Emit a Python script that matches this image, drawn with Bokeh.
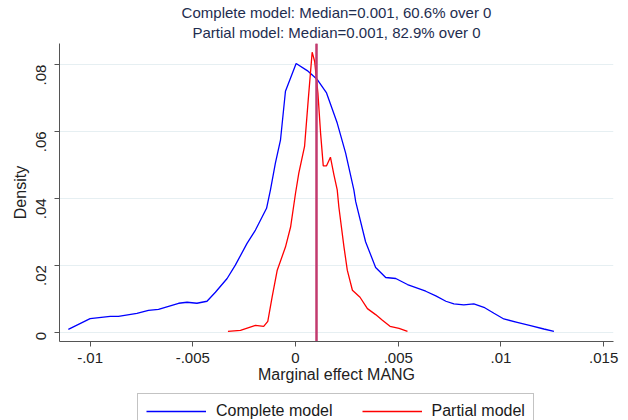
import math
from bokeh.plotting import figure
from bokeh.layouts import column
from bokeh.models import Range1d, FixedTicker, Title, Legend, LegendItem
from bokeh.embed import file_html
from bokeh.resources import INLINE

complete_x = [-0.01106, -0.0100, -0.00902, -0.00862, -0.00772, -0.00716, -0.00667, -0.00618,
              -0.00569, -0.00528, -0.0048, -0.00431, -0.0039, -0.00333, -0.00293, -0.00236,
              -0.00195, -0.00141, -0.00122, -0.00098, -0.00073, -0.00049, 0.00003, 0.00057,
              0.00106, 0.00151, 0.00203, 0.00244, 0.00284, 0.00293, 0.00341, 0.0039, 0.00439,
              0.00488, 0.00545, 0.00634, 0.00683, 0.00732, 0.00771, 0.00819, 0.00868, 0.00917,
              0.00966, 0.01014, 0.01079, 0.01144, 0.01209, 0.01258]
complete_y = [0.0008, 0.0040, 0.0047, 0.0047, 0.0056, 0.0065, 0.0068, 0.0077,
              0.0086, 0.0089, 0.0086, 0.0092, 0.0119, 0.0160, 0.0200, 0.0265,
              0.0305, 0.0370, 0.0425, 0.0505, 0.0575, 0.0720, 0.0803, 0.0782,
              0.0755, 0.0715, 0.0625, 0.0535, 0.0425, 0.0390, 0.0270, 0.0193, 0.0163,
              0.0160, 0.0142, 0.0122, 0.0108, 0.0092, 0.0084, 0.0081, 0.0084, 0.0074,
              0.0056, 0.0039, 0.0029, 0.0019, 0.0009, 0.0002]

partial_x = [-0.00329, -0.00268, -0.00195, -0.00155, -0.00135, -0.00114, -0.00089, -0.00049,
             -0.00024, 0.0, 0.00016, 0.00044, 0.00062, 0.00081, 0.00093, 0.00109, 0.00122,
             0.00135, 0.00151, 0.0017, 0.00187, 0.00203, 0.00211, 0.00236, 0.00252, 0.00277,
             0.00314, 0.0035, 0.0039, 0.00423, 0.0046, 0.00504, 0.00545]
partial_y = [0.0002, 0.0005, 0.0020, 0.0017, 0.0032, 0.0104, 0.0185, 0.0254,
             0.0314, 0.0415, 0.0475, 0.0555, 0.0695, 0.0837, 0.0810, 0.0715, 0.0595,
             0.0497, 0.0497, 0.0523, 0.0470, 0.0425, 0.0374, 0.0254, 0.0185, 0.0125,
             0.0104, 0.0070, 0.0052, 0.0035, 0.0017, 0.0011, 0.0002]

medians = [0.001, 0.001]
series_names = ["Complete model", "Partial model"]
series_colors = ["#0000ff", "#ff0000"]
title_lines = ["Complete model: Median=0.001, 60.6% over 0",
               "Partial model: Median=0.001, 82.9% over 0"]
x_ticks = [-0.01, -0.005, 0, 0.005, 0.01, 0.015]
x_tick_labels = ["-.01", "-.005", "0", ".005", ".01", ".015"]
y_ticks = [0, 0.02, 0.04, 0.06, 0.08]
y_tick_labels = ["0", ".02", ".04", ".06", ".08"]
x_title = "Marginal effect MANG"
y_title = "Density"

FONT = "Liberation Sans"
AXIS_COLOR = "#555555"

p = figure(width=628, height=392, output_backend="svg", toolbar_location=None,
           x_range=Range1d(-0.01149, 0.01548), y_range=Range1d(-0.00284, 0.0863),
           min_border_left=59, min_border_right=15, min_border_top=43, min_border_bottom=51)
p.outline_line_color = None
p.background_fill_color = "white"
p.border_fill_color = "white"

t2 = Title(text=title_lines[1], align="center", text_font=FONT, text_font_size="15px",
           text_font_style="normal", text_color="#1e2d4f", standoff=4.5)
t1 = Title(text=title_lines[0], align="center", text_font=FONT, text_font_size="15px",
           text_font_style="normal", text_color="#1e2d4f", standoff=-2.5)
p.add_layout(t2, "above")
p.add_layout(t1, "above")

p.line(complete_x, complete_y, line_color=series_colors[0], line_width=1.3)
p.line(partial_x, partial_y, line_color=series_colors[1], line_width=1.3)
p.vspan(x=medians, line_color="#c23b6e", line_width=2)

p.xaxis.ticker = FixedTicker(ticks=x_ticks)
p.xaxis.major_label_overrides = {t: l for t, l in zip(x_ticks, x_tick_labels)}
p.yaxis.ticker = FixedTicker(ticks=y_ticks)
p.yaxis.major_label_overrides = {t: l for t, l in zip(y_ticks, y_tick_labels)}
p.yaxis.major_label_orientation = math.pi / 2
for ax in (p.xaxis, p.yaxis):
    ax.axis_line_color = AXIS_COLOR
    ax.major_tick_line_color = AXIS_COLOR
    ax.minor_tick_line_color = None
    ax.major_tick_out = 5
    ax.major_tick_in = 0
    ax.major_label_text_font = FONT
    ax.major_label_text_font_size = "15px"
    ax.major_label_text_color = "#222222"
    ax.axis_label_text_font = FONT
    ax.axis_label_text_font_size = "16px"
    ax.axis_label_text_font_style = "normal"
    ax.axis_label_text_color = "#222222"
p.xaxis.axis_label = x_title
p.yaxis.axis_label = y_title
p.xaxis.major_label_standoff = 6
p.xaxis.axis_label_standoff = 0
p.yaxis.major_label_standoff = 13
p.yaxis.axis_label_standoff = 0

p.xgrid.grid_line_color = None
p.ygrid.grid_line_color = "#e6eff2"
p.ygrid.grid_line_width = 1

# legend strip below the chart (cut off by the window bottom, as in the reference);
# its lines carry the series data but sit outside this strip's visible range
p2 = figure(width=628, height=28, output_backend="svg", toolbar_location=None,
            x_axis_type=None, y_axis_type=None, x_range=Range1d(1, 2), y_range=Range1d(1, 2),
            min_border=0)
p2.outline_line_color = None
p2.border_fill_color = "white"
p2.background_fill_color = "white"
leg_renderers = [p2.line(complete_x, complete_y, line_color=series_colors[0], line_width=1.3),
                 p2.line(partial_x, partial_y, line_color=series_colors[1], line_width=1.3)]
legend = Legend(items=[LegendItem(label=n, renderers=[r]) for n, r in zip(series_names, leg_renderers)],
                orientation="horizontal", location=(78, -9),
                label_text_font=FONT, label_text_font_size="16px", label_text_color="#1a1a1a",
                glyph_width=60, glyph_height=18, label_height=18, label_standoff=10,
                spacing=29, padding=8, margin=0,
                border_line_color="#888888", border_line_width=1,
                background_fill_color="white", background_fill_alpha=1)
p2.add_layout(legend, "center")

layout = column(p, p2, spacing=0)
open("out.html", "w").write(file_html(layout, INLINE))
